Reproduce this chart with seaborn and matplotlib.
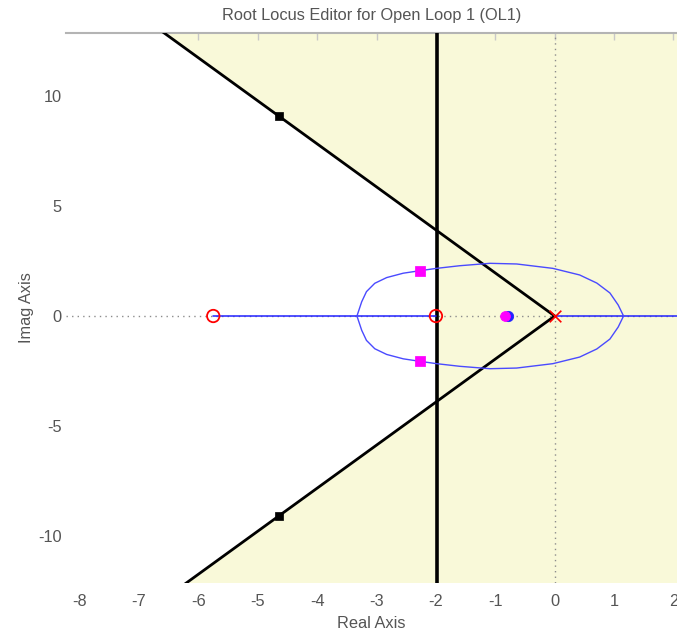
import matplotlib
matplotlib.use("Agg")
import matplotlib.pyplot as plt
import numpy as np
import pandas as pd
import seaborn as sns

# Open-loop singularities
ol_poles_re = [0.0]
ol_poles_im = [0.0]
ol_zeros_re = [-5.75, -2.0]
ol_zeros_im = [0.0, 0.0]

# Closed-loop poles at the current gain
cl_complex_re = [-2.27, -2.27]
cl_complex_im = [2.05, -2.05]
cl_real_re = [-0.83]
cl_real_im = [0.0]
cl_real_under_re = [-0.79]
cl_real_under_im = [0.0]

# Root locus: real-axis branches and the complex loop (upper half, conjugate below)
real_branches = [(-5.75, -2.0), (0.0, 2.5)]
loop_re = [-3.33, -3.25, -3.17, -3.03, -2.83, -2.55, -2.28, -1.99, -1.60,
           -1.09, -0.64, -0.03, 0.42, 0.71, 0.93, 1.07, 1.16]
loop_im = [0.0, 0.65, 1.11, 1.49, 1.75, 1.95, 2.06, 2.17, 2.29,
           2.40, 2.37, 2.17, 1.87, 1.50, 1.05, 0.50, 0.0]

# Design constraints: settling-time boundary and damping-ratio wedge
settling_re = -1.98
damping_slope = 1.96
damping_marker_re = [-4.65, -4.65]
damping_marker_im = [9.11, -9.11]

x_ticks = [-8, -7, -6, -5, -4, -3, -2, -1, 0, 1, 2]
y_ticks = [-10, -5, 0, 5, 10]
x_limits = (-8.23, 2.06)
y_limits = (-12.16, 12.89)

sns.set_style("white")
plt.rcParams["font.family"] = ["Liberation Sans", "DejaVu Sans"]

fig = plt.figure(figsize=(6.77, 6.34), dpi=100)
ax = fig.add_axes([66 / 677, 1 - 583 / 634, (677 - 66) / 677, (583 - 33) / 634])

shade = "#f9f9d9"
ax.set_facecolor(shade)

# allowed region (white) inside the damping wedge, left of the settling bound
wx = np.array([x_limits[0] - 1, settling_re])
ax.fill_between(wx, damping_slope * wx, -damping_slope * wx,
                color="white", lw=0, zorder=1)

# reference axes through the origin
ax.axhline(0, color="#8c8c8c", lw=1, ls=(0, (1, 3)), zorder=2)
ax.axvline(0, color="#8c8c8c", lw=1, ls=(0, (1, 3)), zorder=2)

# constraint lines: settling bound and the two damping rays into the LHP
ax.axvline(settling_re, color="black", lw=2.6, zorder=3)
ray_x = x_limits[0] - 1
for sign in (1, -1):
    ray = pd.DataFrame({"re": [0.0, ray_x], "im": [0.0, -sign * damping_slope * ray_x]})
    sns.lineplot(data=ray, x="re", y="im", color="black", lw=2,
                 sort=False, ax=ax, zorder=3)

locus_color = "#2222ff"
for a, b in real_branches:
    seg = pd.DataFrame({"re": [a, b], "im": [0.0, 0.0]})
    sns.lineplot(data=seg, x="re", y="im", color=locus_color, lw=1.1,
                 sort=False, ax=ax, zorder=4)

upper = pd.DataFrame({"re": loop_re, "im": loop_im})
lower = pd.DataFrame({"re": loop_re, "im": [-v for v in loop_im]})
for branch in (upper, lower):
    sns.lineplot(data=branch, x="re", y="im", color="#4a4aff", lw=1.0,
                 sort=False, ax=ax, zorder=4)

# markers
sns.scatterplot(x=damping_marker_re, y=damping_marker_im, marker="s", s=40,
                color="black", edgecolor="black", ax=ax, zorder=6)
sns.scatterplot(x=cl_real_under_re, y=cl_real_under_im, marker="o", s=55,
                color="#2222ff", edgecolor="#2222ff", ax=ax, zorder=6)
sns.scatterplot(x=cl_real_re, y=cl_real_im, marker="o", s=50,
                color="#ff00ff", edgecolor="#ff00ff", ax=ax, zorder=7)
sns.scatterplot(x=cl_complex_re, y=cl_complex_im, marker="s", s=45,
                color="#ff00ff", edgecolor="#ff00ff", ax=ax, zorder=7)
ax.scatter(ol_zeros_re, ol_zeros_im, marker="o", s=80, facecolors="none",
           edgecolors="red", linewidths=1.3, zorder=8)
ax.scatter(ol_poles_re, ol_poles_im, marker="x", s=70, color="red",
           linewidths=1.2, zorder=8)

ax.set_xlim(*x_limits)
ax.set_ylim(*y_limits)
ax.set_xticks(x_ticks)
ax.set_yticks(y_ticks)
ax.set_xticklabels([str(t) for t in x_ticks])
ax.set_yticklabels([str(t) for t in y_ticks])

ax.tick_params(axis="both", direction="in", length=5, width=1,
               color="#c8c8c8", labelcolor="#555555", labelsize=11.8,
               top=True, right=False, pad=8)
ax.tick_params(axis="y", pad=3)

for side in ("left", "bottom", "right"):
    ax.spines[side].set_visible(False)
ax.spines["top"].set_color("#b4b4b4")
ax.spines["top"].set_linewidth(1.5)

ax.set_xlabel("Real Axis", color="#555555", fontsize=11.8, labelpad=5)
ax.set_ylabel("Imag Axis", color="#555555", fontsize=11.8, labelpad=3)
ax.set_title("Root Locus Editor for Open Loop 1 (OL1)", color="#555555",
             fontsize=11.8, pad=9)

fig.savefig("out.png", dpi=100)
